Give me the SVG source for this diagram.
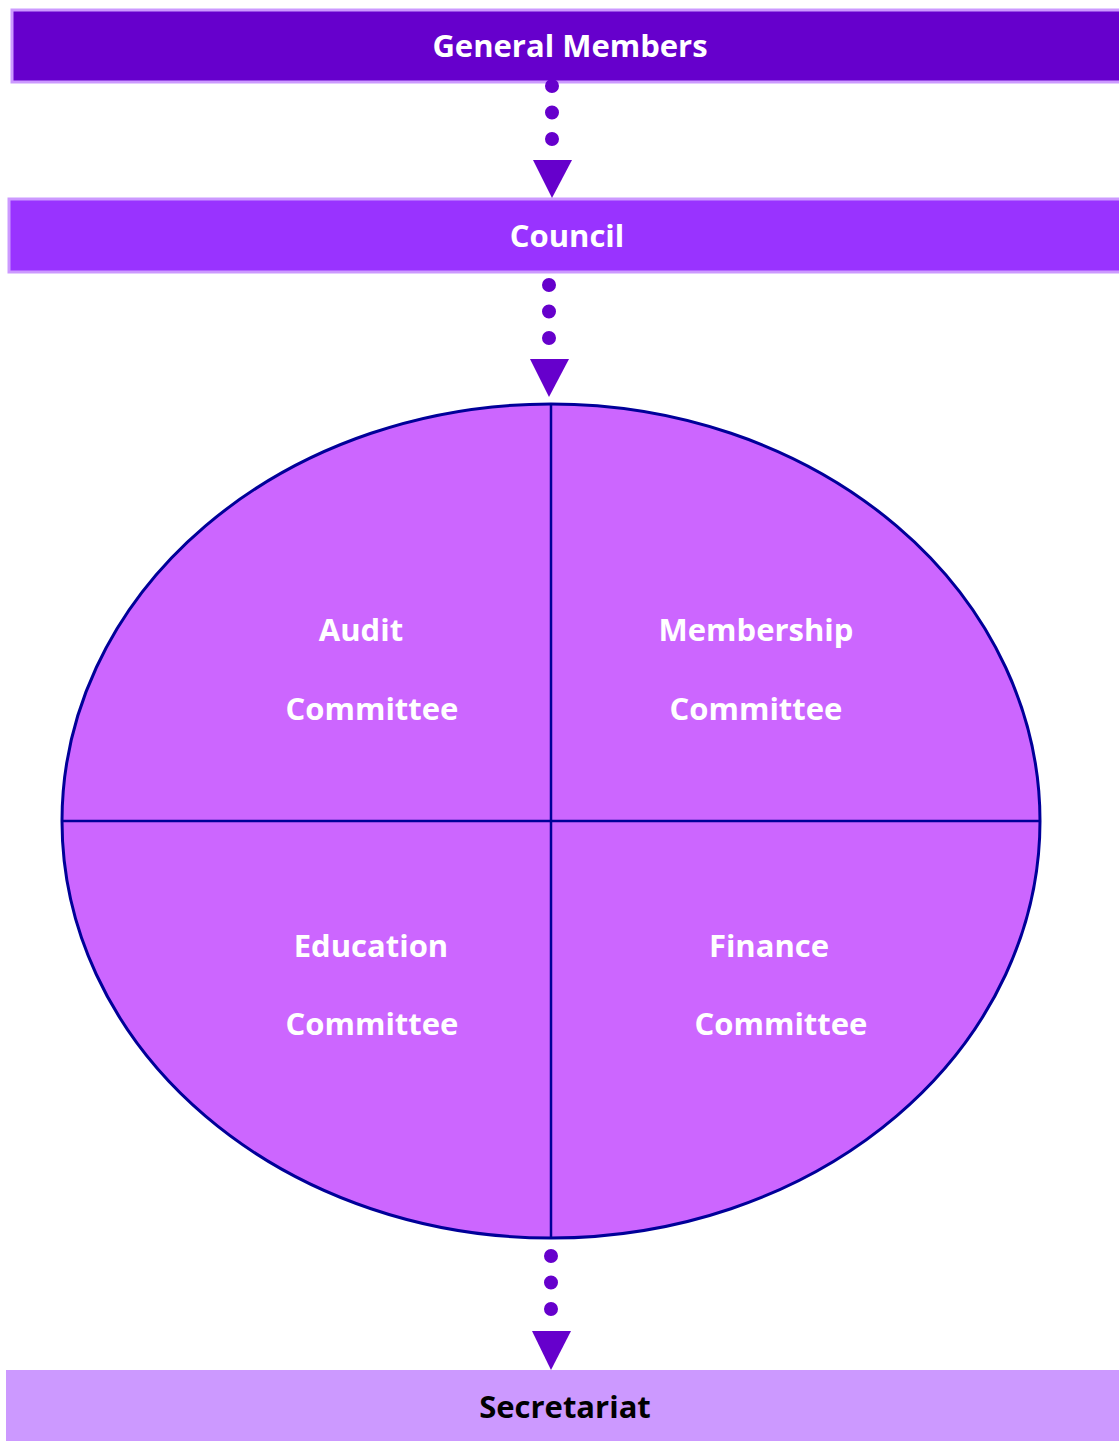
<svg xmlns="http://www.w3.org/2000/svg" width="1119" height="1441" viewBox="0 0 1119 1441">
<style>
.lbl{font-family:"Open Sans","Liberation Sans",sans-serif;font-weight:bold;font-size:31px;text-anchor:middle;fill:#ffffff}
.dark{fill:#000000}
.conn{stroke:#6600cc;stroke-width:14;stroke-linecap:round;stroke-dasharray:0 26.5;fill:none}
.head{fill:#6600cc}
.div{stroke:#000099;stroke-width:2.5}
</style>
<rect width="1119" height="1441" fill="#ffffff"/>
<g id="general-members">
<rect x="12" y="10" width="1112" height="72" fill="#6600cc" stroke="#cc99ff" stroke-width="3"/>
<text class="lbl" x="570" y="57">General Members</text>
</g>
<g id="council">
<rect x="9" y="199" width="1115" height="73" fill="#9933ff" stroke="#cc99ff" stroke-width="3"/>
<text class="lbl" x="567" y="247">Council</text>
</g>
<g id="committees">
<ellipse cx="551" cy="821" rx="489" ry="417" fill="#cc66ff" stroke="#000099" stroke-width="3"/>
<line class="div" x1="551" y1="404" x2="551" y2="1238"/>
<line class="div" x1="62" y1="821" x2="1040" y2="821"/>
<g id="audit"><text class="lbl" x="361" y="641">Audit</text><text class="lbl" x="372" y="720">Committee</text></g>
<g id="membership"><text class="lbl" x="756" y="641">Membership</text><text class="lbl" x="756" y="720">Committee</text></g>
<g id="education"><text class="lbl" x="371" y="957">Education</text><text class="lbl" x="372" y="1035">Committee</text></g>
<g id="finance"><text class="lbl" x="769" y="957">Finance</text><text class="lbl" x="781" y="1035">Committee</text></g>
</g>
<g id="secretariat">
<rect x="6" y="1370" width="1118" height="75" fill="#cc99ff"/>
<text class="lbl dark" x="565" y="1418">Secretariat</text>
</g>
<g id="connectors">
<line class="conn" x1="552" y1="86" x2="552" y2="140"/>
<polygon class="head" points="533,160 572,160 552,198"/>
<line class="conn" x1="549" y1="285" x2="549" y2="339"/>
<polygon class="head" points="530,359 569,359 549,397"/>
<line class="conn" x1="551" y1="1256" x2="551" y2="1311"/>
<polygon class="head" points="532,1331 571,1331 551,1370"/>
</g>
</svg>
